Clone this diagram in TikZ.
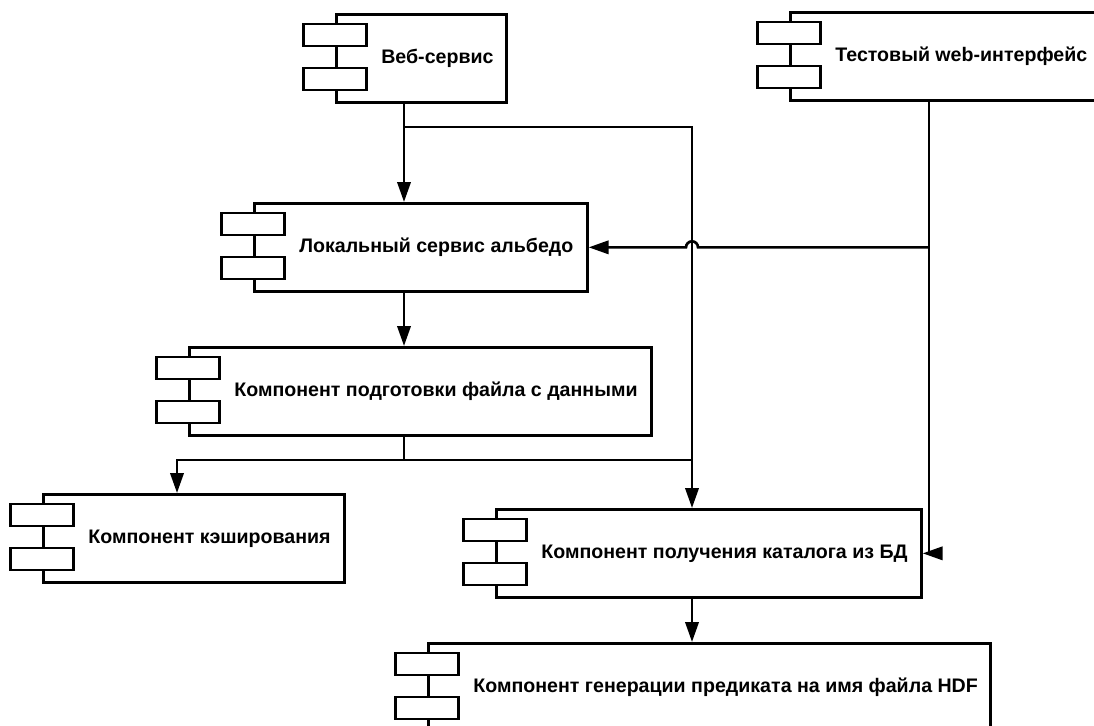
\documentclass[tikz,border=0pt]{standalone}
\usepackage{fontspec}
\setmainfont{Liberation Sans}
\usetikzlibrary{arrows.meta}

\tikzset{every picture/.style={line width=2pt}}
\tikzset{
    comp/.style={draw, rectangle, anchor=north west, minimum height=66pt, inner sep=0pt},
    port/.style={draw, fill=white, rectangle, minimum width=47.25pt, minimum height=16.5pt, inner sep=0pt},
    lbl/.style={anchor=west, inner sep=0pt, font=\bfseries\fontsize{14.7}{17}\selectfont},
    arr/.style={-{Triangle[length=15pt,width=10pt]}}
}

\begin{document}
\begin{tikzpicture}[
            x=0.75pt,
            y=0.75pt,
            yscale=-1,
            xscale=1,
            line width=2pt
        ]
            \useasboundingbox (0,0) rectangle (1094,725);
            \clip (0,0) rectangle (1094,725);

            % components
            \node[comp, minimum width=127.5pt] (web) at (335,13) {};
            \node[comp, minimum width=240pt] (test) at (789,11) {};
            \node[comp, minimum width=249.75pt] (loc) at (253,202) {};
            \node[comp, minimum width=346.5pt] (prep) at (188,346) {};
            \node[comp, minimum width=225.75pt] (cache) at (42,493) {};
            \node[comp, minimum width=318.75pt] (cat) at (495,508) {};
            \node[comp, minimum width=421.5pt] (pred) at (427,642) {};

            \foreach \b in {web,test,loc,prep,cache,cat,pred} {
                \node[port] (\b-p1) at ([yshift=16.5pt]\b.north west) {};
                \node[port] (\b-p2) at ([yshift=49.5pt]\b.north west) {};
            }

            \node[lbl] (web-t) at ([xshift=33.75pt]web.west) {Веб-сервис};
            \node[lbl] (test-t) at ([xshift=33.75pt]test.west) {Тестовый web-интерфейс};
            \node[lbl] (loc-t) at ([xshift=33.75pt]loc.west) {Локальный сервис альбедо};
            \node[lbl] (prep-t) at ([xshift=33.75pt]prep.west) {Компонент подготовки файла с данными};
            \node[lbl] (cache-t) at ([xshift=33.75pt]cache.west) {Компонент кэширования};
            \node[lbl] (cat-t) at ([xshift=33.75pt]cat.west) {Компонент получения каталога из БД};
            \node[lbl] (pred-t) at ([xshift=33.75pt]pred.west) {Компонент генерации предиката на имя файла HDF};

            % junctions
            \coordinate (j1) at (404,127);
            \coordinate (j2) at (692,127);
            \coordinate (tx) at (929,0);
            \coordinate (t1) at (loc.east -| tx);
            \coordinate (h1) at (loc.east -| j2);
            \coordinate (j3) at (404,460);
            \coordinate (j4) at (177,460);
            \coordinate (j5) at (692,460);

            % connectors
            \draw[arr] (web.south -| j1) -- (loc.north -| j1);
            \draw[arr] (j1) -- (j2) -- (cat.north -| j2);
            \draw[arr] (test.south -| t1) -- (t1 |- cat.east) -- (cat.east);
            \draw[arr] (t1) -- ([xshift=4.5pt]h1) arc[start angle=0, end angle=-180, radius=6] -- (loc.east);
            \draw[arr] (loc.south -| j1) -- (prep.north -| j1);
            \draw (prep.south -| j3) -- (j3) -- (j5);
            \draw[arr] (j3) -- (j4) -- (cache.north -| j4);
            \draw[arr] (cat.south -| j2) -- (pred.north -| j2);
        \end{tikzpicture}
\end{document}
